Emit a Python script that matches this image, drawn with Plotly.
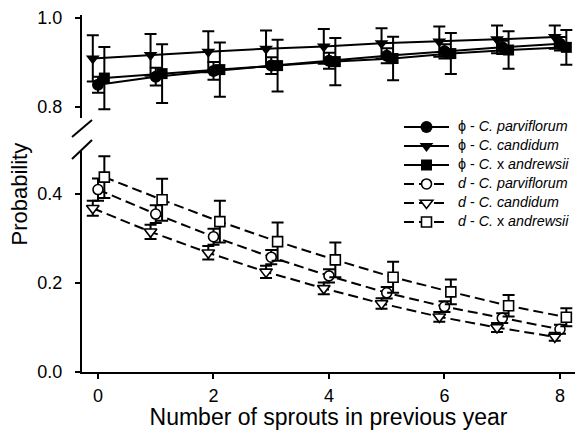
import plotly.graph_objects as go

# ---- data ----
sprouts = [0, 1, 2, 3, 4, 5, 6, 7, 8]

phi_parv = [0.850, 0.868, 0.881, 0.893, 0.904, 0.915, 0.925, 0.934, 0.942]
phi_parv_err = [0.018, 0.020, 0.020, 0.019, 0.018, 0.017, 0.016, 0.015, 0.015]
phi_cand = [0.909, 0.917, 0.924, 0.931, 0.936, 0.943, 0.947, 0.952, 0.957]
phi_cand_err = [0.052, 0.047, 0.046, 0.041, 0.039, 0.034, 0.034, 0.031, 0.026]
phi_andr = [0.865, 0.875, 0.884, 0.893, 0.902, 0.909, 0.920, 0.928, 0.934]
phi_andr_err = [0.070, 0.066, 0.061, 0.058, 0.053, 0.049, 0.046, 0.042, 0.039]

d_parv = [0.410, 0.355, 0.304, 0.258, 0.216, 0.178, 0.147, 0.121, 0.096]
d_parv_err = [0.025, 0.020, 0.018, 0.016, 0.015, 0.013, 0.012, 0.011, 0.010]
d_cand = [0.368, 0.315, 0.268, 0.225, 0.188, 0.154, 0.124, 0.100, 0.079]
d_cand_err = [0.017, 0.016, 0.015, 0.014, 0.013, 0.012, 0.011, 0.010, 0.009]
d_andr = [0.438, 0.387, 0.338, 0.293, 0.252, 0.213, 0.180, 0.149, 0.123]
d_andr_err = [0.047, 0.047, 0.047, 0.043, 0.039, 0.035, 0.028, 0.024, 0.020]

labels = {
    "phi_parv": "ϕ - <i>C. parviflorum</i>",
    "phi_cand": "ϕ - <i>C. candidum</i>",
    "phi_andr": "ϕ - <i>C.</i> x <i>andrewsii</i>",
    "d_parv": "<i>d</i> - <i>C. parviflorum</i>",
    "d_cand": "<i>d</i> - <i>C. candidum</i>",
    "d_andr": "<i>d</i> - <i>C.</i> x <i>andrewsii</i>",
}

# ---- styling / layout helpers ----
dodge = {"parv": 0.0, "cand": -0.09, "andr": 0.11}
FONT = "Liberation Sans, Arial, sans-serif"


def xs(sp):
    return [s + dodge[sp] for s in sprouts]


def leg(txt):
    return '<span style="font-size:14.3px">\u00a0' + txt + '</span>'


fig = go.Figure()


def add(sp, y, err, name, symbol, size, filled, dashed, yaxis, cap):
    fig.add_trace(go.Scatter(
        x=xs(sp), y=y, name=leg(name), yaxis=yaxis, mode="lines+markers",
        line=dict(color="black", width=2, dash="10px,5px" if dashed else "solid"),
        marker=dict(symbol=symbol, size=size,
                    color="black" if filled else "white",
                    line=dict(color="black", width=0 if filled else 1.6)),
        error_y=dict(type="data", array=err, visible=True, color="black",
                     thickness=2, width=cap),
        cliponaxis=False,
    ))


add("parv", phi_parv, phi_parv_err, labels["phi_parv"], "circle", 12, True, False, "y2", 6)
add("cand", phi_cand, phi_cand_err, labels["phi_cand"], "triangle-down", 12, True, False, "y2", 6)
add("andr", phi_andr, phi_andr_err, labels["phi_andr"], "square", 11, True, False, "y2", 6)
add("parv", d_parv, d_parv_err, labels["d_parv"], "circle", 10, False, True, "y", 6)
add("cand", d_cand, d_cand_err, labels["d_cand"], "triangle-down", 11, False, True, "y", 6)
add("andr", d_andr, d_andr_err, labels["d_andr"], "square", 10, False, True, "y", 6)

W, H = 575, 430
ML, MR, MT, MB = 82, 0, 15, 58
plotH = H - MT - MB
S = 445.0  # px per probability unit (same scale for both segments)
low_range = [0.0, 0.5]
up_range = [0.775, 1.0067]
low_top = (low_range[1] - low_range[0]) * S / plotH
up_bot = 1 - (up_range[1] - up_range[0]) * S / plotH

axis_common = dict(showline=True, linecolor="black", linewidth=2, ticks="outside",
                   ticklen=5, tickwidth=2, tickcolor="black", showgrid=False,
                   zeroline=False, automargin=False,
                   tickfont=dict(family=FONT, size=18, color="black"))

fig.update_layout(
    width=W, height=H,
    margin=dict(l=ML, r=MR, t=MT, b=MB, pad=0, autoexpand=False),
    paper_bgcolor="white", plot_bgcolor="white",
    font=dict(family=FONT, color="black"),
    xaxis=dict(range=[-0.277, 8.26], tickvals=[0, 2, 4, 6, 8], anchor="y",
               ticklabelstandoff=1,
               title=dict(text="Number of sprouts in previous year",
                          font=dict(family=FONT, size=23, color="black"), standoff=10),
               **axis_common),
    yaxis=dict(domain=[0, low_top], range=low_range, tickvals=[0.0, 0.2, 0.4],
               ticktext=["0.0", "0.2", "0.4"], anchor="x", ticklabelstandoff=9,
               **axis_common),
    yaxis2=dict(domain=[up_bot, 1], range=up_range, tickvals=[0.8, 1.0],
                ticktext=["0.8", "1.0"], anchor="x", ticklabelstandoff=9,
                **axis_common),
    showlegend=True,
    legend=dict(x=0.643, y=0.727, xanchor="left", yanchor="top",
                font=dict(family=FONT, size=11.5, color="black"),
                bgcolor="rgba(0,0,0,0)", itemwidth=45, tracegroupgap=0),
    annotations=[dict(text="Probability", xref="paper", yref="paper",
                      x=-(ML - 19) / (W - ML - MR), y=0.5, xanchor="center", yanchor="middle",
                      textangle=-90, showarrow=False,
                      font=dict(family=FONT, size=22, color="black"))],
)

# axis-break marks
pw = W - ML - MR
dx = 10 / pw


def py(pix):
    return (H - MB - pix) / plotH


fig.add_shape(type="line", xref="paper", yref="paper", x0=-dx, x1=dx,
              y0=py(137), y1=py(120), line=dict(color="black", width=2))
fig.add_shape(type="line", xref="paper", yref="paper", x0=-dx, x1=dx,
              y0=py(159), y1=py(140), line=dict(color="black", width=2))

fig.write_html("out.html", config={"displayModeBar": False},
               post_script="document.body.style.margin='0px';")
